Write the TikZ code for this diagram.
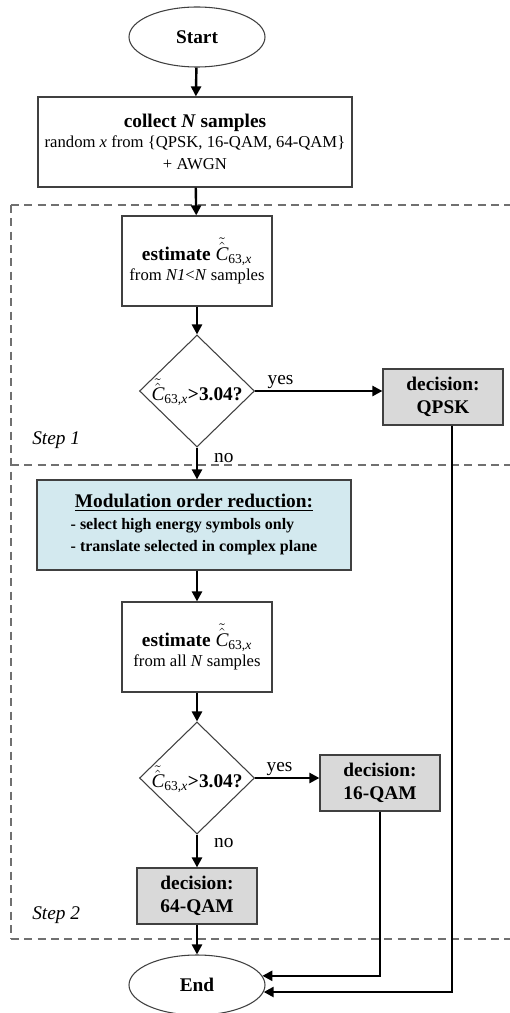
\documentclass[tikz,border=0pt]{standalone}
\usepackage{amsmath}
\usepackage{fontspec}
\setmainfont{Liberation Serif}
\usetikzlibrary{shapes.geometric,arrows.meta}
\definecolor{boxline}{HTML}{404040}
\definecolor{grayfill}{HTML}{D9D9D9}
\definecolor{bluefill}{HTML}{D3E9EF}
\definecolor{dashgray}{HTML}{707070}
\newcommand{\Cest}{$\tilde{\hat{\text{\normalfont\itshape C}}}_{\text{\normalfont 63,\itshape x}}$}
\newcommand{\bigfont}{\fontsize{14.5}{17}\selectfont}
\newcommand{\smallfont}{\fontsize{12.5}{15}\selectfont}
\begin{document}
\begin{tikzpicture}[x=0.75pt,y=-0.75pt,
  term/.style={ellipse, draw=boxline, line width=0.8pt, minimum width=136*0.75pt, minimum height=60*0.75pt, inner sep=0pt, font=\bigfont\bfseries},
  procbox/.style={rectangle, draw=boxline, line width=0.9pt, align=center, inner sep=0pt},
  decbox/.style={procbox, fill=grayfill, minimum width=120*0.75pt, minimum height=56*0.75pt, font=\bigfont\bfseries},
  estbox/.style={procbox, minimum width=150*0.75pt, minimum height=90*0.75pt},
  cond/.style={diamond, draw=boxline, line width=0.8pt, minimum width=115*0.75pt, minimum height=112*0.75pt, inner sep=0pt},
  condtext/.style={inner sep=0pt, font=\bigfont},
  flow/.style={line width=1.8pt, -{Triangle[length=7.5pt,width=7.5pt]}},
  answer/.style={font=\fontsize{14.5}{17}\selectfont, inner sep=1pt},
  region/.style={draw=dashgray, line width=0.8pt, dash pattern=on 6pt off 4pt},
  steplabel/.style={font=\bigfont\itshape, anchor=west, inner sep=0pt}
]
\useasboundingbox (0,0) rectangle (510,1013);

% dashed regions
\draw[region] (11,205) -- (525,205);
\draw[region] (11,465) -- (525,465);
\draw[region] (11,939) -- (525,939);
\draw[region] (11,205) -- (11,939);
\node[steplabel] (s1) at (32,440) {Step 1};
\node[steplabel] (s2) at (32,915) {Step 2};

% nodes
\node[term] (start) at (197,37) {Start};
\node[procbox, minimum width=314*0.75pt, minimum height=90*0.75pt] (collect) at (195,142)
  {{\bigfont\bfseries collect \textit{N} samples}\\[3pt]
   {\smallfont random \textit{x} from \{QPSK, 16-QAM, 64-QAM\}}\\[5pt]
   {\smallfont + AWGN}};
\node[estbox] (est1) at (197,261)
  {{\bigfont\bfseries estimate \Cest}\\[1.5pt]
   {\smallfont from \textit{N1}<\textit{N} samples}};
\node[cond] (d1) at (197,391) {};
\node[condtext] (d1t) at (197,392) {\Cest\textbf{>3.04?}};
\node[decbox] (qpsk) at (443,397) {decision:\\QPSK};

\node[procbox, fill=bluefill, minimum width=314*0.75pt, minimum height=90*0.75pt,
      font=\fontsize{12}{16.5}\selectfont\bfseries] (mod) at (194,525)
  {\begin{tabular}{@{}l@{}}
   \multicolumn{1}{@{}c@{}}{\bigfont\underline{Modulation order reduction:}}\\
   - select high energy symbols only\\
   - translate selected in complex plane
   \end{tabular}};
\node[estbox] (est2) at (197,647)
  {{\bigfont\bfseries estimate \Cest}\\[1.5pt]
   {\smallfont from all \textit{N} samples}};
\node[cond] (d2) at (197,778) {};
\node[condtext] (d2t) at (197,779) {\Cest\textbf{>3.04?}};
\node[decbox] (q16) at (380,783) {decision:\\16-QAM};
\node[decbox] (q64) at (197,896) {decision:\\64-QAM};
\node[term] (end) at (197,985) {End};

% connectors
\draw[flow] (start) -- (collect);
\draw[flow] (collect) -- (est1);
\draw[flow] (est1) -- (d1);
\draw[flow] (d1.east) -- node[answer, pos=0.2, above] {yes} (d1.east -| qpsk.west);
\draw[flow] (d1.south) -- node[answer, pos=0.33, anchor=west, xshift=11pt] {no} (mod.north -| d1.south);
\draw[flow] (mod.south -| est2.north) -- (est2);
\draw[flow] (est2) -- (d2);
\draw[flow] (d2.east) -- node[answer, pos=0.38, above] {yes} (d2.east -| q16.west);
\draw[flow] (d2.south) -- node[answer, pos=0.25, anchor=west, xshift=11pt] {no} (q64.north);
\draw[flow] (q64) -- (end);
\draw[flow] (q16.south) |- (end.8);
\draw[flow] ([xshift=6.75pt]qpsk.south) |- (end.-6);
\end{tikzpicture}
\end{document}
